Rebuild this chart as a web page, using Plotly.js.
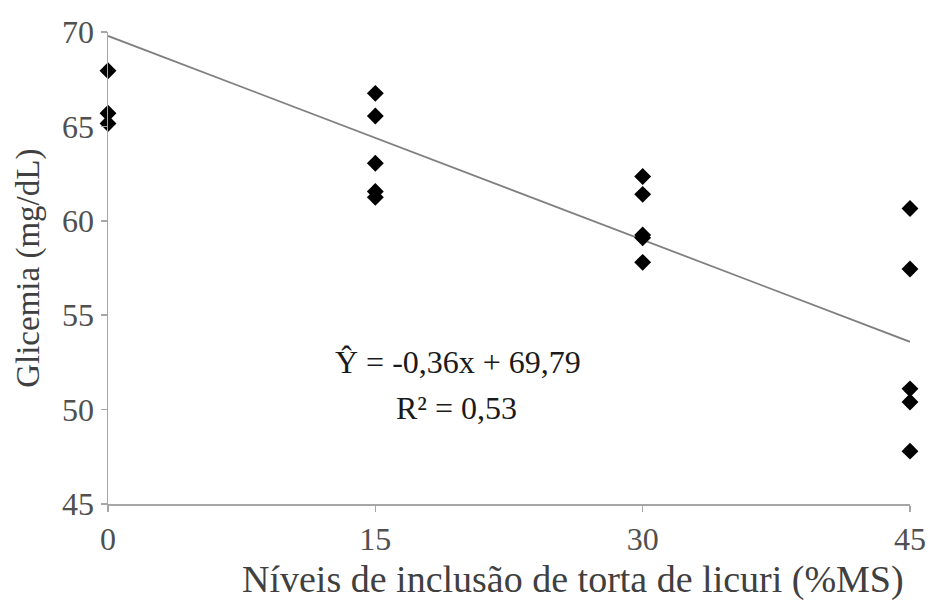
<!DOCTYPE html>
<html>
<head>
<meta charset="utf-8">
<script src="https://cdn.plot.ly/plotly-3.0.1.min.js"></script>
<style>html,body{margin:0;padding:0;background:#fff;}#chart{width:932px;height:602px;}</style>
</head>
<body>
<div id="chart"></div>
<script>
const levels0 = [0, 0, 0];
const glic0 = [67.95, 65.7, 65.15];
const levels15 = [15, 15, 15, 15, 15];
const glic15 = [66.75, 65.55, 63.05, 61.55, 61.25];
const levels30 = [30, 30, 30, 30, 30];
const glic30 = [62.35, 61.4, 59.25, 59.1, 57.8];
const levels45 = [45, 45, 45, 45, 45];
const glic45 = [60.65, 57.45, 51.1, 50.4, 47.8];

// Regression equation shown on the chart
const slope = -0.36;
const intercept = 69.79;
const lineX = [0, 45];

const xTicks = [0, 15, 30, 45];
const yTicks = [45, 50, 55, 60, 65, 70];

const xs = [].concat(levels0, levels15, levels30, levels45);
const ys = [].concat(glic0, glic15, glic30, glic45);
const lineY = lineX.map(x => intercept + slope * x);

const font = "Liberation Serif";

const data = [
  {x: lineX, y: lineY, type: 'scatter', mode: 'lines',
   line: {color: '#808080', width: 1.8}, hoverinfo: 'skip', cliponaxis: false},
  {x: xs, y: ys, type: 'scatter', mode: 'markers',
   marker: {symbol: 'diamond', size: 13, color: '#000000'}, cliponaxis: false}
];

const layout = {
  width: 932, height: 602,
  margin: {l: 108, r: 22, t: 32, b: 98},
  paper_bgcolor: '#ffffff', plot_bgcolor: '#ffffff',
  showlegend: false,
  font: {family: font, size: 32, color: '#404040'},
  xaxis: {
    range: [0, 45], tickvals: xTicks, ticktext: xTicks.map(String),
    showgrid: false, zeroline: false, automargin: false,
    showline: true, linecolor: '#a6a6a6', linewidth: 1.5,
    ticks: 'outside', ticklen: 6, tickcolor: '#a6a6a6', tickwidth: 1.5,
    tickfont: {family: font, size: 32, color: '#505050'}
  },
  yaxis: {
    range: [45, 70], tickvals: yTicks, ticktext: yTicks.map(String),
    showgrid: false, zeroline: false, automargin: false,
    showline: true, linecolor: '#a6a6a6', linewidth: 1.5,
    ticks: 'outside', ticklen: 6, tickcolor: '#a6a6a6', tickwidth: 1.5,
    tickfont: {family: font, size: 32, color: '#505050'}
  },
  annotations: [
    {xref: 'paper', yref: 'paper', x: 0.437, y: 0.301, xanchor: 'center', yanchor: 'middle',
     text: 'Ŷ = -0,36x + 69,79', showarrow: false,
     font: {family: font, size: 32, color: '#1a1a1a'}},
    {xref: 'paper', yref: 'paper', x: 0.434, y: 0.203, xanchor: 'center', yanchor: 'middle',
     text: 'R² = 0,53', showarrow: false,
     font: {family: font, size: 32, color: '#1a1a1a'}},
    {xref: 'paper', yref: 'paper', x: 0.58, y: -0.161, xanchor: 'center', yanchor: 'middle',
     text: 'Níveis de inclusão de torta de licuri (%MS)', showarrow: false,
     font: {family: font, size: 38, color: '#404040'}},
    {xref: 'paper', yref: 'paper', x: -0.1, y: 0.50, xanchor: 'center', yanchor: 'middle',
     textangle: -90,
     text: 'Glicemia (mg/dL)', showarrow: false,
     font: {family: font, size: 33, color: '#404040'}}
  ]
};

Plotly.newPlot('chart', data, layout, {displayModeBar: false, staticPlot: true});
</script>
</body>
</html>
